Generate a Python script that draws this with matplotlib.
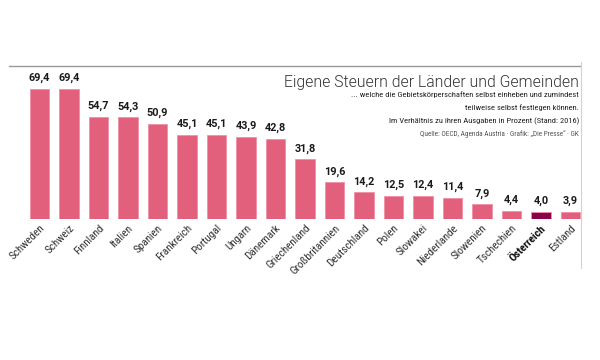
import matplotlib
matplotlib.use("Agg")
import matplotlib.pyplot as plt
from matplotlib.lines import Line2D

countries = ["Schweden", "Schweiz", "Finnland", "Italien", "Spanien", "Frankreich",
             "Portugal", "Ungarn", "Dänemark", "Griechenland", "Großbritannien",
             "Deutschland", "Polen", "Slowakei", "Niederlande", "Slowenien",
             "Tschechien", "Österreich", "Estland"]
values = [69.4, 69.4, 54.7, 54.3, 50.9, 45.1, 45.1, 43.9, 42.8, 31.8, 19.6,
          14.2, 12.5, 12.4, 11.4, 7.9, 4.4, 4.0, 3.9]
highlight = "Österreich"

title = "Eigene Steuern der Länder und Gemeinden"
subtitle = ["... welche die Gebietskörperschaften selbst einheben und zumindest",
            "teilweise selbst festlegen können.",
            "Im Verhältnis zu ihren Ausgaben in Prozent (Stand: 2016)"]
source = "Quelle: OECD, Agenda Austria · Grafik: „Die Presse“ · GK"

COND = ["Roboto Condensed", "Liberation Sans Narrow", "DejaVu Sans"]
PINK = "#E2607B"
DARK = "#8C0049"

fig = plt.figure(figsize=(6, 3.6), dpi=100)
ax = fig.add_axes([24.75 / 600, (360 - 219) / 360, 560.5 / 600, 149.8 / 360])

x = list(range(len(countries)))
colors = [DARK if c == highlight else PINK for c in countries]
ax.bar(x, values, width=0.66, color=colors, edgecolor="#F090A5", linewidth=0.6)
ax.set_xlim(-0.5, len(countries) - 0.5)
ax.set_ylim(0, 80)
for s in ax.spines.values():
    s.set_visible(False)
ax.set_yticks([])
ax.tick_params(axis="x", length=0, pad=3)
ax.set_xticks(x)
ax.set_xticklabels(countries, rotation=45, ha="right", va="top",
                   rotation_mode="anchor", family=COND, fontsize=8, color="#333333")
for lbl in ax.get_xticklabels():
    if lbl.get_text() == highlight:
        lbl.set_fontweight("bold")
        lbl.set_color("#111111")

for xi, v in zip(x, values):
    ax.annotate(f"{v:.1f}".replace(".", ","), (xi, v), xytext=(0, 4),
                textcoords="offset points", ha="center", va="bottom",
                family=["Roboto", "DejaVu Sans"], fontweight="bold", fontsize=7.8, color="#1a1a1a")

# decorative lines
fig.add_artist(Line2D([9 / 600, 580 / 600], [(360 - 66) / 360] * 2, color="#999999", lw=1.0))
fig.add_artist(Line2D([580.5 / 600] * 2, [(360 - 62) / 360, (360 - 268) / 360], color="#c9dcb8", lw=0.8))

fig.text(579 / 600, (360 - 82) / 360, title, ha="right", va="center",
         family=["Roboto", "DejaVu Sans"], fontweight=300, fontsize=11.3, color="#333333")
ys = [95, 108, 121]
for line, yy in zip(subtitle, ys):
    fig.text(579 / 600, (360 - yy) / 360, line, ha="right", va="center",
             family=COND, fontsize=6.1, color="#222222")
fig.text(579 / 600, (360 - 134) / 360, source, ha="right", va="center",
         family=COND, fontsize=5.2, color="#555555")

fig.savefig("out.png", dpi=100)
